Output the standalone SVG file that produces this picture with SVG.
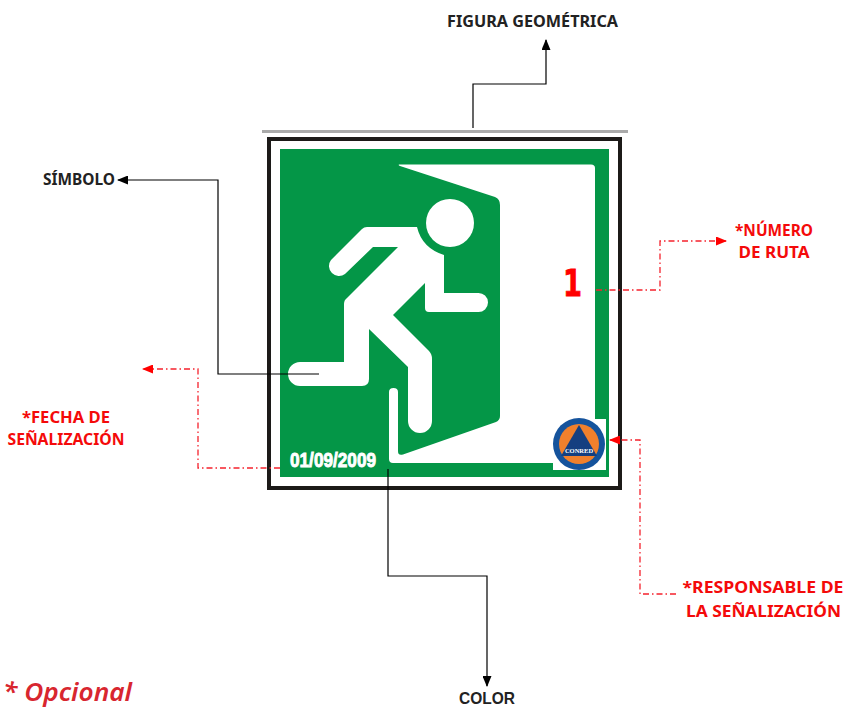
<svg xmlns="http://www.w3.org/2000/svg" width="846" height="708" viewBox="0 0 846 708">
<style>
.lb{font-family:"Noto Sans","DejaVu Sans",sans-serif;font-weight:700;font-size:16.500px;text-anchor:middle}
.k{fill:#222}.r{fill:#f40a0a}
.c{fill:none;stroke:#000;stroke-width:1.2}
.d{fill:none;stroke:#f5222d;stroke-width:1.300;stroke-dasharray:6 3 1.500 3}
.w{fill:#fff}
</style>
<defs>
<marker id="ak" markerWidth="11" markerHeight="9" refX="10" refY="4.500" orient="auto" markerUnits="userSpaceOnUse"><path d="M0 0L11 4.500L0 9z" fill="#000"/></marker>
<marker id="ar" markerWidth="11" markerHeight="9" refX="10" refY="4.500" orient="auto" markerUnits="userSpaceOnUse"><path d="M0 0L11 4.500L0 9z" fill="#f00"/></marker>
</defs>
<rect width="846" height="708" fill="#fff"/>
<g id="sign">
<rect x="262" y="130" width="366" height="3" fill="#aaa"/>
<rect x="269" y="139" width="351" height="349" fill="#fff" stroke="#1c1a18" stroke-width="4"/>
<rect x="280" y="149" width="329" height="328" fill="#049647"/>
<path class="w" d="M399 164.500H591Q595 164.500 595 168V420H606V470H553V463H393Q389 463 389 459V392Q389 388 393.500 388Q398 388 398 392V451Q398 456 403 454.500L496 422Q500 420 500 416V205Q500 199 495 197L400 166Q398 165 399 164.500Z"/>
<circle class="w" cx="450" cy="223" r="24"/>
<path class="w" d="M367 227H417Q422 248 444 255V293H478A9.500 9.500 0 0 1 488 302.500A9.500 9.500 0 0 1 478 312H429Q425 312 425 308V283L393 315L429 351Q432 354 432 359V421A12 12 0 0 1 408 421V367L369 329V379Q369 386 362 386H300A12 12 0 0 1 300 362H344V304Q344 300 347 298L398 247H373L345 274A10 10 0 0 1 331 260L362 229Q364 227 367 227Z"/>
<text x="290" y="467" fill="#fff" stroke="#fff" stroke-width=".9" font-family="Liberation Sans,sans-serif" font-weight="700" font-size="20" textLength="86" lengthAdjust="spacingAndGlyphs">01/09/2009</text>
<text x="563" y="296" fill="#f00" stroke="#f00" stroke-width=".8" font-family="DejaVu Sans,sans-serif" font-weight="700" font-size="37" textLength="19" lengthAdjust="spacingAndGlyphs">1</text>
</g>
<g id="logo">
<rect x="553" y="419" width="53" height="51" fill="#fff"/>
<circle cx="579" cy="444" r="26" fill="#15539c"/>
<circle cx="579" cy="444" r="20" fill="#f0802c"/>
<path d="M579 425L597 456H561z" fill="#143f80"/>
<text x="579" y="452.500" text-anchor="middle" fill="#fff" font-family="Liberation Serif,serif" font-weight="700" font-size="6.500">CONRED</text>
</g>
<g id="connectors">
<path class="c" marker-end="url(#ak)" d="M473 128V84H546V40"/>
<path class="c" marker-end="url(#ak)" d="M319 374H218V180H118"/>
<path class="c" marker-end="url(#ak)" d="M388 469V576H487V686"/>
<path class="d" marker-end="url(#ar)" d="M596 290H660V241H726"/>
<path class="d" marker-end="url(#ar)" d="M280 468H198V369H143"/>
<path class="d" marker-end="url(#ar)" d="M676 594H640V440H610"/>
</g>
<g id="labels">
<text id="figura" class="lb k" x="532.500" y="27" textLength="171" lengthAdjust="spacingAndGlyphs">FIGURA GEOMÉTRICA</text>
<text id="simbolo" class="lb k" x="79" y="185" textLength="72" lengthAdjust="spacingAndGlyphs">SÍMBOLO</text>
<text id="color" x="487" y="704.400" fill="#222" text-anchor="middle" font-family="Liberation Sans,sans-serif" font-weight="700" font-size="16.500" textLength="56" lengthAdjust="spacingAndGlyphs">COLOR</text>
<g id="ruta" class="lb r"><text x="774" y="236" textLength="78" lengthAdjust="spacingAndGlyphs">*NÚMERO</text><text x="774" y="258" textLength="71" lengthAdjust="spacingAndGlyphs">DE RUTA</text></g>
<g id="fecha" class="lb r"><text x="66" y="423" textLength="88" lengthAdjust="spacingAndGlyphs">*FECHA DE</text><text x="66" y="445" textLength="117" lengthAdjust="spacingAndGlyphs">SEÑALIZACIÓN</text></g>
<g id="responsable" class="lb r"><text x="763" y="592.500" textLength="161" lengthAdjust="spacingAndGlyphs">*RESPONSABLE DE</text><text x="763.500" y="617" textLength="155" lengthAdjust="spacingAndGlyphs">LA SEÑALIZACIÓN</text></g>
<text id="opcional" x="3" y="701" fill="#d8262f" font-family="Noto Sans,sans-serif" font-style="italic" font-weight="600" font-size="26" textLength="129" lengthAdjust="spacingAndGlyphs">* Opcional</text>
</g>
</svg>
